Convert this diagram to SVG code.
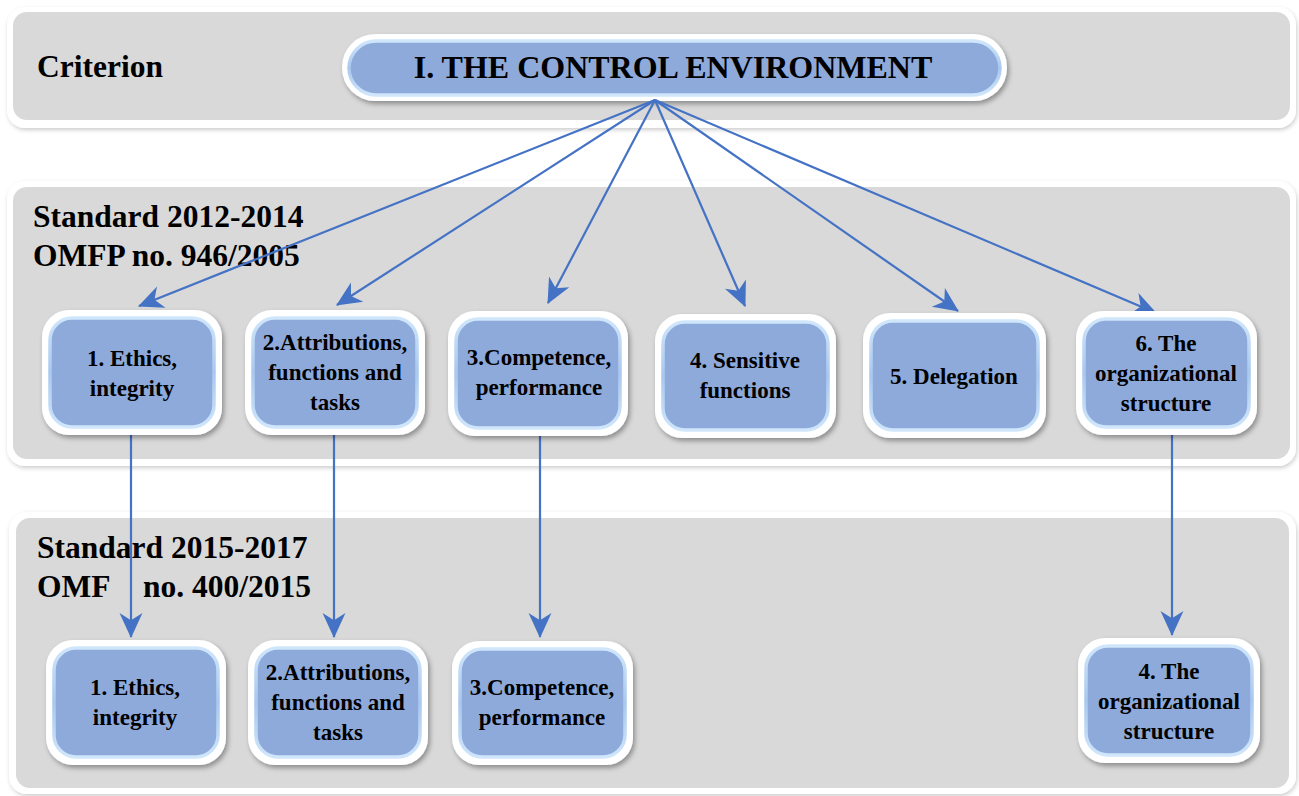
<svg xmlns="http://www.w3.org/2000/svg" width="1299" height="796" viewBox="0 0 1299 796">
<defs>
<filter id="sh" x="-10%" y="-10%" width="125%" height="130%">
<feDropShadow dx="2" dy="3" stdDeviation="2.5" flood-color="#000" flood-opacity="0.35"/>
</filter>
<filter id="bsh" x="-2%" y="-5%" width="104%" height="112%">
<feDropShadow dx="1" dy="2" stdDeviation="2" flood-color="#000" flood-opacity="0.2"/>
</filter>
<linearGradient id="rim" x1="0" y1="0" x2="0" y2="1">
<stop offset="0" stop-color="#cfe6fb"/>
<stop offset="0.5" stop-color="#a9c8ef"/>
<stop offset="1" stop-color="#cfe6fb"/>
</linearGradient>
<marker id="arr" markerUnits="userSpaceOnUse" viewBox="0 0 24 24" refX="23" refY="12" markerWidth="25" markerHeight="25" orient="auto">
<path d="M0,1 L24,12 L0,23 L7,12 z" fill="#4472c4"/>
</marker>
</defs>
<style>
.bandO{fill:#ffffff;filter:url(#bsh)}
.bandI{fill:#d9d9d9}
.out{fill:#ffffff;filter:url(#sh)}
.in{fill:#8eaadb;stroke:url(#rim);stroke-width:3.5}
.t{font-family:"Liberation Serif","Times New Roman",serif;font-weight:bold;fill:#000}
.lbl{font-size:31.5px}
.nt{font-size:23px;text-anchor:middle}
.con{stroke:#4472c4;stroke-width:2.2;fill:none;marker-end:url(#arr)}
</style>
<rect width="1299" height="796" fill="#ffffff"/>

<g id="band1">
<rect class="bandO" x="7" y="7" width="1289" height="121" rx="18"/>
<rect class="bandI" x="13" y="12" width="1277" height="108" rx="14"/>
<text class="t lbl" x="37" y="77">Criterion</text>
</g>
<g id="band2">
<rect class="bandO" x="7" y="181" width="1289" height="285" rx="18"/>
<rect class="bandI" x="13" y="187" width="1277" height="272" rx="14"/>
<text class="t lbl" x="33" y="227">Standard 2012-2014</text>
<text class="t lbl" x="33" y="266">OMFP no. 946/2005</text>
</g>
<g id="band3">
<rect class="bandO" x="9" y="512" width="1287" height="282" rx="18"/>
<rect class="bandI" x="16" y="518" width="1273" height="270" rx="14"/>
<text class="t lbl" x="37" y="558">Standard 2015-2017</text>
<text class="t lbl" x="37" y="597">OMF</text>
<text class="t lbl" x="143" y="597">no. 400/2015</text>
</g>

<g id="top">
<rect class="out" x="342" y="34" width="665" height="67" rx="33"/>
<rect class="in" x="349" y="41" width="651" height="54" rx="27"/>
<text class="t" x="673" y="78" font-size="32" text-anchor="middle">I. THE CONTROL ENVIRONMENT</text>
</g>

<g id="connectors">
<line class="con" x1="655" y1="100" x2="139" y2="306"/>
<line class="con" x1="655" y1="100" x2="337" y2="305"/>
<line class="con" x1="655" y1="100" x2="548" y2="303"/>
<line class="con" x1="655" y1="100" x2="745" y2="306"/>
<line class="con" x1="655" y1="100" x2="958" y2="311"/>
<line class="con" x1="655" y1="100" x2="1156" y2="313"/>
<line class="con" x1="131" y1="432" x2="131" y2="637"/>
<line class="con" x1="334" y1="435" x2="334" y2="637"/>
<line class="con" x1="540" y1="433" x2="540" y2="637"/>
<line class="con" x1="1172" y1="432" x2="1172" y2="635"/>
</g>

<g id="n1">
<rect class="out" x="42" y="310" width="180" height="125" rx="27"/>
<rect class="in" x="50" y="318" width="164" height="109" rx="22"/>
<text class="t nt" x="132" y="366">1. Ethics,</text>
<text class="t nt" x="132" y="396">integrity</text>
</g>
<g id="n2">
<rect class="out" x="245" y="310" width="180" height="125" rx="27"/>
<rect class="in" x="253" y="318" width="164" height="109" rx="22"/>
<text class="t nt" x="335" y="350">2.Attributions,</text>
<text class="t nt" x="335" y="380">functions and</text>
<text class="t nt" x="335" y="410">tasks</text>
</g>
<g id="n3">
<rect class="out" x="448" y="311" width="180" height="125" rx="27"/>
<rect class="in" x="456" y="319" width="164" height="109" rx="22"/>
<text class="t nt" x="539" y="365">3.Competence,</text>
<text class="t nt" x="539" y="395">performance</text>
</g>
<g id="n4">
<rect class="out" x="655" y="314" width="181" height="124" rx="27"/>
<rect class="in" x="663" y="322" width="165" height="108" rx="22"/>
<text class="t nt" x="745" y="368">4. Sensitive</text>
<text class="t nt" x="745" y="398">functions</text>
</g>
<g id="n5">
<rect class="out" x="863" y="313" width="183" height="125" rx="27"/>
<rect class="in" x="871" y="321" width="167" height="109" rx="22"/>
<text class="t nt" x="954" y="384">5. Delegation</text>
</g>
<g id="n6">
<rect class="out" x="1076" y="311" width="181" height="124" rx="27"/>
<rect class="in" x="1084" y="319" width="165" height="108" rx="22"/>
<text class="t nt" x="1166" y="351">6. The</text>
<text class="t nt" x="1166" y="381">organizational</text>
<text class="t nt" x="1166" y="411">structure</text>
</g>

<g id="m1">
<rect class="out" x="46" y="640" width="180" height="125" rx="27"/>
<rect class="in" x="54" y="648" width="164" height="109" rx="22"/>
<text class="t nt" x="135" y="695">1. Ethics,</text>
<text class="t nt" x="135" y="725">integrity</text>
</g>
<g id="m2">
<rect class="out" x="248" y="640" width="180" height="125" rx="27"/>
<rect class="in" x="256" y="648" width="164" height="109" rx="22"/>
<text class="t nt" x="338" y="680">2.Attributions,</text>
<text class="t nt" x="338" y="710">functions and</text>
<text class="t nt" x="338" y="740">tasks</text>
</g>
<g id="m3">
<rect class="out" x="452" y="641" width="181" height="124" rx="27"/>
<rect class="in" x="460" y="649" width="165" height="108" rx="22"/>
<text class="t nt" x="542" y="695">3.Competence,</text>
<text class="t nt" x="542" y="725">performance</text>
</g>
<g id="m4">
<rect class="out" x="1078" y="638" width="182" height="125" rx="27"/>
<rect class="in" x="1086" y="646" width="166" height="109" rx="22"/>
<text class="t nt" x="1169" y="679">4. The</text>
<text class="t nt" x="1169" y="709">organizational</text>
<text class="t nt" x="1169" y="739">structure</text>
</g>
</svg>
